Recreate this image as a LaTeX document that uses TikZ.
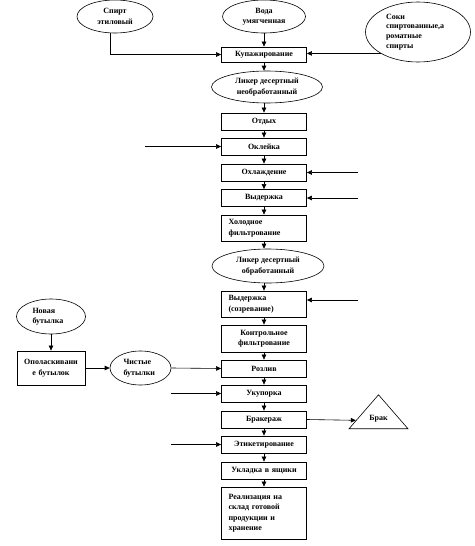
\documentclass[tikz,border=0pt]{standalone}
\usepackage{fontspec}
\setmainfont{Liberation Serif}
\usetikzlibrary{arrows.meta,shapes.geometric,calc}
\begin{document}
\begin{tikzpicture}[x=1pt,y=-1pt,
  every node/.style={font=\fontsize{8}{10.5}\selectfont\bfseries},
  box/.style={draw, line width=0.8pt, rectangle, minimum width=85pt, minimum height=17pt, text width=71pt, inner xsep=7pt, inner ysep=0pt, align=center},
  lbox/.style={box, align=left},
  oval/.style={draw, line width=0.6pt, ellipse, inner sep=0pt},
  arr/.style={-{Triangle[length=5pt,width=4.5pt]}, line width=0.6pt}]
\fill[white] (0,0) rectangle (474,546);
\useasboundingbox (0,0) rectangle (474,546);
% sources
\node[oval, minimum width=76pt, minimum height=33pt, align=center] (spirt) at (115,16.5) {Спирт\\этиловый};
\node[oval, minimum width=83pt, minimum height=33pt, align=center] (voda) at (264,16.5) {Вода\\умягченная};
\node[oval, minimum width=105pt, minimum height=60pt, text width=64pt, align=left, font=\fontsize{8}{9.7}\selectfont\bfseries] (soki) at (418,32) {Соки\\спиртованные,а\\роматные\\спирты};
% main column
\node[box, minimum height=15pt] (kup) at (264,54.5) {Купажирование};
\node[oval, minimum width=111pt, minimum height=32pt, align=center] (lik1) at (267,87) {Ликер десертный\\необработанный};
\node[box] (otd) at (264,121.5) {Отдых};
\node[box] (okl) at (264,146.5) {Оклейка};
\node[box] (ohl) at (264,172.5) {Охлаждение};
\node[box] (vyd) at (264,198) {Выдержка};
\node[lbox, minimum height=26pt] (hf) at (264,228) {Холодное\\фильтрование};
\node[oval, minimum width=112pt, minimum height=34pt, align=center] (lik2) at (268,266) {Ликер десертный\\обработанный};
\node[lbox, minimum height=26pt] (vyd2) at (264,304) {Выдержка\\(созревание)};
\node[box, minimum height=27pt] (kf) at (264,338.5) {Контрольное\\фильтрование};
\node[box] (roz) at (264,368.5) {Розлив};
\node[box] (uk) at (264,393.5) {Укупорка};
\node[box] (brk) at (264,419.5) {Бракераж};
\node[box] (et) at (264,444.5) {Этикетирование};
\node[box] (ukl) at (264,470.5) {Укладка в ящики};
\node[lbox, minimum height=52pt] (real) at (264,513) {Реализация на\\склад готовой\\продукции и\\хранение};
% bottles
\node[oval, minimum width=69pt, minimum height=35pt, text width=37pt, align=left] (nov) at (51,316.5) {Новая\\бутылка};
\node[box, minimum width=68pt, minimum height=34pt, text width=60pt, inner xsep=4pt] (opl) at (51,368) {Ополаскивани\\е бутылок};
\node[oval, minimum width=61pt, minimum height=34pt, text width=34pt, align=left] (chist) at (140.5,368) {Чистые\\бутылки};
% reject
\node[draw, line width=0.6pt, isosceles triangle, shape border rotate=90, isosceles triangle stretches, minimum width=59pt, minimum height=34pt, inner sep=0pt, anchor=apex] (brak) at (378.5,394) {Брак};
% free-end coordinates
\coordinate (inOkl) at (145,146.5);
\coordinate (inOhl) at (358,172.5);
\coordinate (inVyd) at (358,198);
\coordinate (inVyd2) at (358,300);
\coordinate (inUk) at (171,393.5);
\coordinate (inEt) at (171,444.5);
% connectors
\draw[arr] ([xshift=-5pt]spirt.south) |- (kup.west);
\draw[arr] (voda.south) -- (kup.north);
\draw[arr] (soki.south west) -- (soki.south west -| kup.east);
\draw[arr] (kup.south) -- (kup.south |- lik1.north);
\draw[arr] (lik1.south -| otd.north) -- (otd.north);
\draw[arr] (otd.south) -- (okl.north);
\draw[arr] (okl.south) -- (ohl.north);
\draw[arr] (ohl.south) -- (vyd.north);
\draw[arr] (vyd.south) -- (hf.north);
\draw[arr] (hf.south) -- (hf.south |- lik2.north);
\draw[arr] (lik2.south -| vyd2.north) -- (vyd2.north);
\draw[arr] (vyd2.south) -- (kf.north);
\draw[arr] (kf.south) -- (roz.north);
\draw[arr] (roz.south) -- (uk.north);
\draw[arr] (uk.south) -- (brk.north);
\draw[arr] (brk.south) -- (et.north);
\draw[arr] (et.south) -- (ukl.north);
\draw[arr] (ukl.south) -- (real.north);
\draw[arr] (inOkl) -- (okl.west);
\draw[arr] (inOhl) -- (ohl.east);
\draw[arr] (inVyd) -- (vyd.east);
\draw[arr] (inVyd2) -- (inVyd2 -| vyd2.east);
\draw[arr] (inUk) -- (uk.west);
\draw[arr] (inEt) -- (et.west);
\draw[arr] (nov.south) -- (opl.north);
\draw[arr] (opl.east) -- (chist.west);
\draw[arr] (chist.east) -- (roz.west);
\draw[arr] (brk.east) -- ($(brak.apex)!0.75!(brak.left corner)$);
\end{tikzpicture}
\end{document}
